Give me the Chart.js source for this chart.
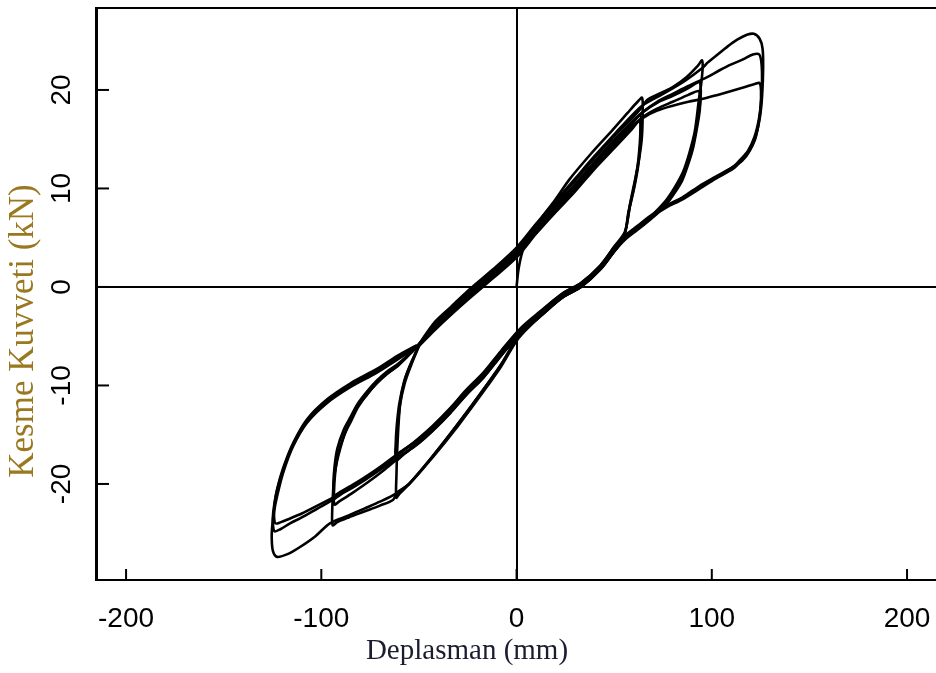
<!DOCTYPE html>
<html><head><meta charset="utf-8">
<script src="https://cdn.jsdelivr.net/npm/chart.js@4.4.0/dist/chart.umd.min.js"></script>
<style>html,body{margin:0;padding:0;background:#fff;overflow:hidden}#wrap{width:960px;height:673px}</style>
</head><body><div id="wrap"><canvas id="c" width="960" height="673"></canvas></div>
<script>
const xTicks = [-200, -100, 0, 100, 200];
const yTicks = [-20, -10, 0, 10, 20];
const xTitle = 'Deplasman (mm)';
const yTitle = 'Kesme Kuvveti (kN)';

// Cycle 1: first excursion to +/-62 mm (starts at origin)
const c1X = [0, 1, 3, 6, 12, 20, 27, 38, 49, 57, 62, 64.3, 64.6, 64.2, 63.0, 61.0, 58.3, 55.5, 50, 43, 33, 24, 12, 1, -8, -18, -30, -43, -55, -60, -61.6, -61.5, -61.0, -59.6, -57.2, -54.4, -50];
const c1Y = [0, 1.8, 3.6, 5.0, 6.8, 8.9, 10.9, 13.5, 15.9, 17.7, 18.8, 19.2, 17.8, 15.2, 13.3, 11.2, 8.6, 5.6, 4.1, 2.2, 0.4, -0.6, -2.6, -5.0, -7.9, -10.7, -13.9, -17.2, -20.0, -21.0, -21.4, -19.0, -16.0, -11.8, -9.4, -7.9, -5.9];
// Cycle 2: repeat +/-62
const c2X = [-50, -42, -34, -25, -12, 0, 10, 20, 30, 40, 51, 59, 63.3, 63.8, 63.4, 62.3, 60.4, 57.8, 55.2, 50, 43, 33, 24, 12, 2, -8, -17, -26, -34, -43, -51, -58, -61.8, -61.9, -61.4, -60.1, -57.6, -54.6, -50];
const c2Y = [-5.9, -4.0, -2.5, -0.9, 1.3, 3.4, 5.8, 8.1, 10.2, 12.5, 14.8, 16.5, 17.4, 16.2, 14.4, 12.3, 10.2, 7.9, 5.3, 4.0, 2.2, 0.4, -0.6, -2.5, -4.2, -6.5, -8.7, -10.5, -12.3, -14.1, -15.5, -16.6, -17.2, -16.0, -14.2, -11.9, -9.6, -8.0, -6.0];
// Cycle 3: repeat +/-62
const c3X = [-50, -42, -34, -25, -12, 0, 10, 20, 30, 40, 51, 59, 63.0, 63.4, 62.9, 61.8, 59.9, 57.3, 55.0, 50, 43, 33, 24, 12, 2, -8, -17, -26, -34, -43, -51, -58, -61.5, -61.6, -61.0, -59.8, -57.3, -54.3, -50];
const c3Y = [-6.0, -4.4, -2.9, -1.3, 0.9, 3.0, 5.4, 7.6, 9.7, 12.0, 14.3, 16.0, 16.9, 15.8, 14.0, 12.0, 9.9, 7.6, 5.0, 3.6, 1.8, 0.0, -1.0, -2.9, -4.6, -6.9, -9.1, -10.9, -12.7, -14.5, -15.9, -17.0, -17.6, -16.4, -14.5, -12.1, -9.8, -8.1, -6.0];
// Cycle 4: first excursion to +/-93
const c4X = [-50, -42, -34, -25, -12, 0, 10, 20, 30, 40, 51, 60, 64, 67, 74, 80, 87, 93, 95, 95.3, 94.5, 93.5, 91.3, 88.5, 85.3, 81, 77, 72.5, 68.4, 62, 55.5, 50, 43, 33, 24, 12, 1, -8, -18, -30, -43, -55, -61.4, -63.2, -70, -78, -86, -92, -94.2, -94.4, -94.0, -92.8, -89.0, -85.5, -81.7, -76.5, -71.5, -66.5, -61.3, -56, -51];
const c4Y = [-6.0, -3.7, -2.2, -0.5, 1.7, 3.9, 6.3, 8.6, 10.8, 13.1, 15.5, 17.3, 18.2, 19.0, 19.7, 20.3, 21.3, 22.5, 23.0, 22.2, 20.5, 19.2, 15.8, 13.6, 11.7, 10.1, 8.9, 7.9, 7.1, 6.1, 5.1, 3.7, 2.0, 0.2, -0.9, -2.9, -5.0, -7.9, -10.7, -13.9, -17.2, -20.0, -20.9, -21.6, -22.2, -22.8, -23.4, -23.9, -24.2, -22.6, -20.9, -18.5, -15.5, -13.7, -12.2, -10.9, -9.7, -8.8, -8.1, -7.1, -6.1];
// Cycle 5: repeat +/-93
const c5X = [-51, -42, -34, -25, -12, 0, 10, 20, 30, 40, 51, 60, 65, 72, 80, 88, 93.5, 94.3, 94.2, 93.2, 90.8, 88, 85, 81, 77, 72.5, 68.4, 62, 55.5, 50, 43, 33, 24, 12, 2, -8, -17, -26, -34, -43, -51, -60, -68, -76, -84, -91, -93.6, -93.8, -93.2, -91.8, -88.5, -85, -81.5, -76.5, -71.5, -66.5, -61.3, -56, -51];
const c5Y = [-6.1, -3.9, -2.4, -0.8, 1.4, 3.6, 6.0, 8.3, 10.4, 12.7, 15.1, 16.9, 17.8, 18.7, 19.4, 20.2, 20.8, 20.4, 19.0, 17.5, 14.8, 12.8, 11.1, 9.7, 8.6, 7.7, 6.9, 5.9, 4.9, 3.9, 2.1, 0.3, -0.7, -2.6, -4.3, -6.6, -8.8, -10.6, -12.4, -14.2, -15.6, -16.8, -18.0, -19.1, -20.1, -20.9, -21.2, -20.0, -18.2, -16.4, -14.5, -13.2, -11.9, -10.6, -9.5, -8.6, -7.9, -7.0, -6.1];
// Cycle 6: repeat +/-93
const c6X = [-51, -42, -34, -25, -12, 0, 10, 20, 30, 40, 51, 60, 65, 72, 80, 88, 93.2, 94.0, 93.9, 92.9, 90.5, 87.8, 84.8, 80.8, 76.8, 72.3, 68.2, 62, 55.5, 50, 43, 33, 24, 12, 2, -8, -17, -26, -34, -43, -51, -60, -68, -76, -84, -91, -93.3, -93.5, -92.9, -91.5, -88.2, -84.7, -81.2, -76.2, -71.2, -66.2, -61.0, -56, -51];
const c6Y = [-6.1, -4.2, -2.7, -1.1, 1.1, 3.2, 5.6, 7.9, 10.0, 12.3, 14.6, 16.4, 17.3, 18.1, 18.8, 19.5, 19.9, 19.4, 18.1, 16.7, 14.2, 12.4, 10.8, 9.5, 8.4, 7.5, 6.8, 5.8, 4.8, 3.6, 1.8, 0.0, -1.0, -3.0, -4.7, -7.0, -9.2, -11.0, -12.8, -14.6, -16.0, -17.3, -18.6, -19.8, -20.9, -21.8, -22.1, -20.8, -18.9, -17.0, -15.0, -13.6, -12.2, -10.8, -9.7, -8.8, -8.0, -7.0, -6.1];
// Cycle 7: first excursion to +/-123
const c7X = [-51, -42, -34, -25, -12, 0, 10, 20, 30, 40, 51, 60, 65, 75, 86, 95, 98, 103, 108, 113, 118, 121.5, 124.5, 126, 126.3, 125.8, 124.7, 122.5, 119.6, 115.5, 110.9, 102, 94, 85, 77, 68.4, 62, 55.5, 50, 43, 33, 24, 12, 1, -8, -18, -30, -43, -55, -62, -70, -78, -86, -95.6, -103, -110.9, -117, -122.7, -124.8, -125.4, -125.2, -124.2, -122.7, -119.6, -114.5, -107.4, -97.2, -85.4, -71.5, -61.3, -51];
const c7Y = [-6.1, -3.6, -2.1, -0.4, 1.8, 4.0, 6.4, 8.7, 11.0, 13.3, 15.7, 17.6, 18.5, 19.6, 20.9, 22.2, 22.8, 23.6, 24.4, 25.1, 25.6, 25.7, 25.2, 24.2, 22.3, 19.5, 17.3, 15.3, 13.9, 12.8, 12.2, 11.2, 10.3, 9.1, 8.3, 7.2, 6.2, 5.2, 3.8, 2.0, 0.1, -1.0, -3.0, -5.2, -8.1, -10.9, -14.1, -17.3, -20.0, -21.0, -21.8, -22.5, -23.2, -24.0, -25.3, -26.4, -27.1, -27.4, -26.8, -25.5, -24.4, -22.8, -21.3, -18.9, -16.2, -13.8, -11.8, -10.2, -8.7, -7.4, -6.1];
// Cycle 8: repeat +/-123
const c8X = [-51, -42, -34, -25, -12, 0, 10, 20, 30, 40, 51, 60, 65, 72, 80, 88, 97.6, 104, 110, 116, 121, 124.3, 125.5, 125.7, 125.2, 124.0, 121.8, 118.5, 114.5, 110.9, 102, 94, 85, 77, 68.4, 62, 55.5, 50, 43, 33, 24, 12, 2, -8, -17, -26, -34, -43, -51, -60, -68, -77, -86, -94, -102, -110, -116, -121, -124, -124.8, -124.6, -123.0, -119.6, -114.5, -107.4, -97.2, -85.4, -71.5, -61.3, -51];
const c8Y = [-6.1, -3.9, -2.4, -0.8, 1.4, 3.6, 6.0, 8.3, 10.4, 12.7, 15.1, 16.9, 17.8, 18.8, 19.6, 20.4, 21.3, 22.0, 22.6, 23.1, 23.6, 23.6, 22.6, 20.6, 18.6, 16.9, 15.2, 13.8, 12.9, 12.2, 11.1, 10.2, 9.0, 8.2, 7.1, 6.1, 5.1, 4.0, 2.1, 0.3, -0.7, -2.6, -4.3, -6.6, -8.8, -10.6, -12.4, -14.2, -15.6, -16.9, -18.1, -19.4, -20.5, -21.6, -22.5, -23.4, -24.0, -24.6, -24.8, -24.0, -22.8, -20.9, -18.6, -16.0, -13.6, -11.6, -10.0, -8.5, -7.2, -6.0];
// Cycle 9: repeat +/-123
const c9X = [-51, -42, -34, -25, -12, 0, 10, 20, 30, 40, 51, 60, 65, 72, 80, 88, 95.5, 103, 110, 117, 122, 124.5, 125.2, 125.0, 124.0, 122.0, 118.5, 114.5, 110.9, 102, 94, 85, 77, 68.4, 62, 55.5, 50, 43, 33, 24, 12, 2, -8, -17, -26, -34, -43, -51, -60, -68, -77, -86, -94, -102, -110, -116, -121, -123.5, -124.2, -124.0, -122.6, -119.4, -114.3, -107.2, -97.0, -85.2, -71.3, -61.1, -51];
const c9Y = [-6.0, -4.2, -2.7, -1.1, 1.1, 3.2, 5.6, 7.9, 10.0, 12.3, 14.6, 16.4, 17.2, 17.9, 18.4, 18.8, 19.1, 19.5, 19.9, 20.3, 20.6, 20.7, 19.9, 18.4, 16.6, 14.9, 13.6, 12.7, 12.0, 11.0, 10.0, 8.9, 8.1, 7.0, 6.0, 5.0, 3.6, 1.8, 0.0, -1.0, -3.0, -4.7, -7.0, -9.2, -11.0, -12.8, -14.6, -16.0, -17.2, -18.3, -19.5, -20.6, -21.4, -22.2, -23.0, -23.5, -23.9, -24.0, -23.3, -22.2, -20.5, -18.3, -15.8, -13.4, -11.4, -9.8, -8.3, -7.0, -5.9];

const cycles = [[c1X, c1Y], [c2X, c2Y], [c3X, c3Y], [c4X, c4Y], [c5X, c5Y], [c6X, c6Y], [c7X, c7Y], [c8X, c8Y], [c9X, c9Y]];

const datasets = cycles.map(([xs, ys], i) => ({
  label: 'Cycle ' + (i + 1),
  data: xs.map((x, j) => ({ x: x, y: ys[j] })),
  borderColor: '#000',
  borderWidth: 2.6,
  pointRadius: 0,
  showLine: true,
  fill: false,
  tension: 0.3
}));

const zeroGrid = c => (c.tick && c.tick.value === 0) ? '#000' : 'rgba(0,0,0,0)';
const tickFont = { family: '"Liberation Sans", Arial, Helvetica, sans-serif', size: 28 };

const framePlugin = {
  id: 'frame',
  afterDraw(chart) {
    const { ctx, chartArea: a, scales: { x, y } } = chart;
    ctx.save();
    ctx.strokeStyle = '#000';
    ctx.lineWidth = 2;
    ctx.beginPath();
    ctx.moveTo(a.left, a.top);
    ctx.lineTo(a.right, a.top);
    ctx.stroke();
    // inward tick marks
    xTicks.forEach(v => {
      const px = x.getPixelForValue(v);
      ctx.beginPath(); ctx.moveTo(px, a.bottom); ctx.lineTo(px, a.bottom - 11); ctx.stroke();
    });
    yTicks.forEach(v => {
      const py = y.getPixelForValue(v);
      ctx.beginPath(); ctx.moveTo(a.left, py); ctx.lineTo(a.left + 13, py); ctx.stroke();
    });
    // axis titles
    ctx.textAlign = 'center';
    ctx.textBaseline = 'middle';
    ctx.fillStyle = '#1c1c30';
    ctx.font = '29px "Liberation Serif", "Times New Roman", serif';
    ctx.fillText(xTitle, 467, 651);
    ctx.translate(24, 331);
    ctx.rotate(-Math.PI / 2);
    ctx.fillStyle = '#9a7820';
    ctx.font = '35px "Liberation Serif", "Times New Roman", serif';
    ctx.fillText(yTitle, 0, 0);
    ctx.restore();
  }
};

new Chart(document.getElementById('c'), {
  type: 'scatter',
  data: { datasets: datasets },
  options: {
    responsive: false,
    animation: false,
    devicePixelRatio: 1,
    layout: { padding: { top: 8, right: 10, left: 0, bottom: 0 } },
    plugins: { legend: { display: false }, tooltip: { enabled: false } },
    scales: {
      x: {
        type: 'linear', min: -215.4, max: 222,
        afterBuildTicks: s => { s.ticks = xTicks.map(v => ({ value: v })); },
        afterFit: s => { s.height = 93; s.paddingLeft = 0; s.paddingRight = 0; },
        grid: { color: zeroGrid, lineWidth: 2, drawTicks: false },
        border: { display: true, color: '#000', width: 2 },
        ticks: { font: tickFont, color: '#000', padding: 22, maxRotation: 0, autoSkip: false }
      },
      y: {
        type: 'linear', min: -29.75, max: 28.32,
        afterBuildTicks: s => { s.ticks = yTicks.map(v => ({ value: v })); },
        afterFit: s => { s.width = 96; s.paddingTop = 0; s.paddingBottom = 0; },
        grid: { color: zeroGrid, lineWidth: 2, drawTicks: false },
        border: { display: true, color: '#000', width: 3 },
        ticks: { font: tickFont, color: '#000', padding: 13, minRotation: 90, maxRotation: 90, crossAlign: 'center', autoSkip: false }
      }
    }
  },
  plugins: [framePlugin]
});
</script></body></html>
